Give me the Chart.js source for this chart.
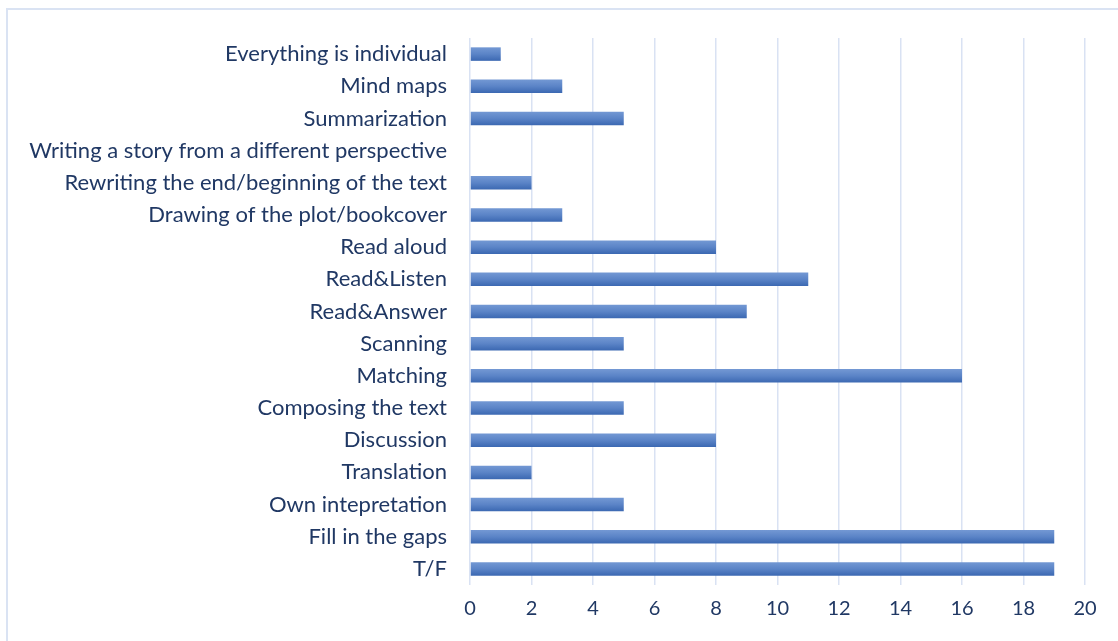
<!DOCTYPE html>
<html>
<head>
<meta charset="utf-8">
<script src="https://cdn.jsdelivr.net/npm/chart.js@4/dist/chart.umd.min.js"></script>
<style>
    html, body { margin: 0; padding: 0; background: #fff; }
    #moldura {
        position: absolute; left: 6px; top: 8px; width: 1200px; height: 700px;
        border-left: 2px solid #dae3f3; border-top: 2px solid #dae3f3;
    }
    #grafico-box { position: absolute; left: 0; top: 0; width: 1118px; height: 641px; }
</style>
</head>
<body>
<div id="moldura"></div>
<div id="grafico-box"><canvas id="grafico" width="1118" height="641"></canvas></div>
<script>
let categorias = [
    'Everything is individual',
    'Mind maps',
    'Summarization',
    'Writing a story from a different perspective',
    'Rewriting the end/beginning of the text',
    'Drawing of the plot/bookcover',
    'Read aloud',
    'Read&Listen',
    'Read&Answer',
    'Scanning',
    'Matching',
    'Composing the text',
    'Discussion',
    'Translation',
    'Own intepretation',
    'Fill in the gaps',
    'T/F'
];
let valores = [1, 3, 5, 0, 2, 3, 8, 11, 9, 5, 16, 5, 8, 2, 5, 19, 19];
let ticksX = [0, 2, 4, 6, 8, 10, 12, 14, 16, 18, 20];

const corTexto = '#203864';
const corGrade = '#d9e2f3';
const meiaAltura = 7;

// gradiente vertical por barra, como no estilo do Excel
function corBarra(c) {
    let escala = c.chart.scales.y;
    if (!escala || escala.top === undefined) return '#5580c2';
    let centro = escala.getPixelForValue(c.dataIndex);
    let g = c.chart.ctx.createLinearGradient(0, centro - meiaAltura, 0, centro + meiaAltura);
    g.addColorStop(0, '#7499d4');
    g.addColorStop(0.5, '#5b84c7');
    g.addColorStop(1, '#3a67b1');
    return g;
}

let ctx = document.getElementById('grafico').getContext('2d');
new Chart(ctx, {
    type: 'bar',
    data: {
        labels: categorias,
        datasets: [{
            data: valores,
            backgroundColor: corBarra,
            borderWidth: 0,
            barPercentage: 0.84,
            categoryPercentage: 0.5
        }]
    },
    options: {
        indexAxis: 'y',
        responsive: false,
        animation: false,
        devicePixelRatio: 1,
        layout: { padding: { left: 0, top: 38, right: 33, bottom: 16 } },
        plugins: { legend: { display: false }, tooltip: { enabled: false } },
        scales: {
            x: {
                min: 0,
                max: 20,
                afterBuildTicks: (s) => { s.ticks = ticksX.map(v => ({ value: v })); },
                afterFit: (s) => { s.height = 40; },
                grid: { color: corGrade, lineWidth: 1.5, drawTicks: false },
                border: { display: false },
                ticks: { color: corTexto, padding: 12, font: { family: 'Lato', size: 20 } }
            },
            y: {
                afterFit: (s) => { s.width = 470; },
                grid: { display: false, drawTicks: false },
                border: { display: false },
                ticks: { color: corTexto, padding: 23, autoSkip: false, font: { family: 'Lato', size: 22 } }
            }
        }
    }
});
</script>
</body>
</html>
